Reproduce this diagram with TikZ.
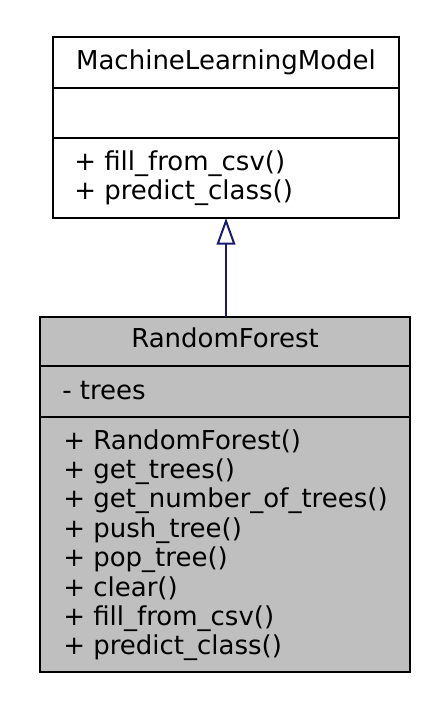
\documentclass[tikz,border=0pt]{standalone}
\usepackage{fontspec}
\setmainfont{DejaVu Sans}
\usepackage{xcolor}
\usepackage{tikz}
\usetikzlibrary{arrows.meta, positioning}
\definecolor{EdgeNavy}{RGB}{25, 25, 112}
\definecolor{NodeGrey}{RGB}{191, 191, 191}

\tikzset{
  classbox/.style={draw=black, line width=1.5pt, inner sep=0pt, outer sep=0pt, anchor=north west},
  divider/.style={draw=black, line width=1.5pt},
  umltext/.style={inner sep=0pt, font=\fontsize{19.5}{22}\selectfont},
  inherit/.style={draw=EdgeNavy, line width=1.5pt, -{Triangle[open, length=20pt, width=14pt]}}
}

\begin{document}
\begin{tikzpicture}[x=0.75pt, y=-0.75pt]
  \path[use as bounding box] (0,0) rectangle (434,708);

  % MachineLearningModel
  \node[classbox, fill=white, minimum width=259.5pt, minimum height=135.75pt] (mlm) at (53,37) {};
  \draw[divider] (53,88) -- (399,88);
  \draw[divider] (53,138) -- (399,138);
  \node[umltext, anchor=base] (mlmname) at (226,69) {MachineLearningModel};
  \node[umltext, anchor=base west] (mlmfill) at (74,170) {+ fill\_from\_csv()};
  \node[umltext, anchor=base west] (mlmpred) at (74,199) {+ predict\_class()};

  % RandomForest
  \node[classbox, fill=NodeGrey, minimum width=277.5pt, minimum height=266.25pt] (rf) at (40,317) {};
  \draw[divider] (40,366) -- (410,366);
  \draw[divider] (40,417) -- (410,417);
  \node[umltext, anchor=base] (rfname) at (225,347) {RandomForest};
  \node[umltext, anchor=base west] (rftrees) at (62,399) {- trees};
  \foreach \m [count=\i from 0] in {RandomForest(), get\_trees(), get\_number\_of\_trees(),
      push\_tree(), pop\_tree(), clear(), fill\_from\_csv(), predict\_class()}
    \node[umltext, anchor=base west] (rfm\i) at (63,449+29.4*\i) {+ \m};

  % generalisation
  \draw[inherit] (mlm.south |- rf.north) -- (mlm.south);
\end{tikzpicture}
\end{document}
